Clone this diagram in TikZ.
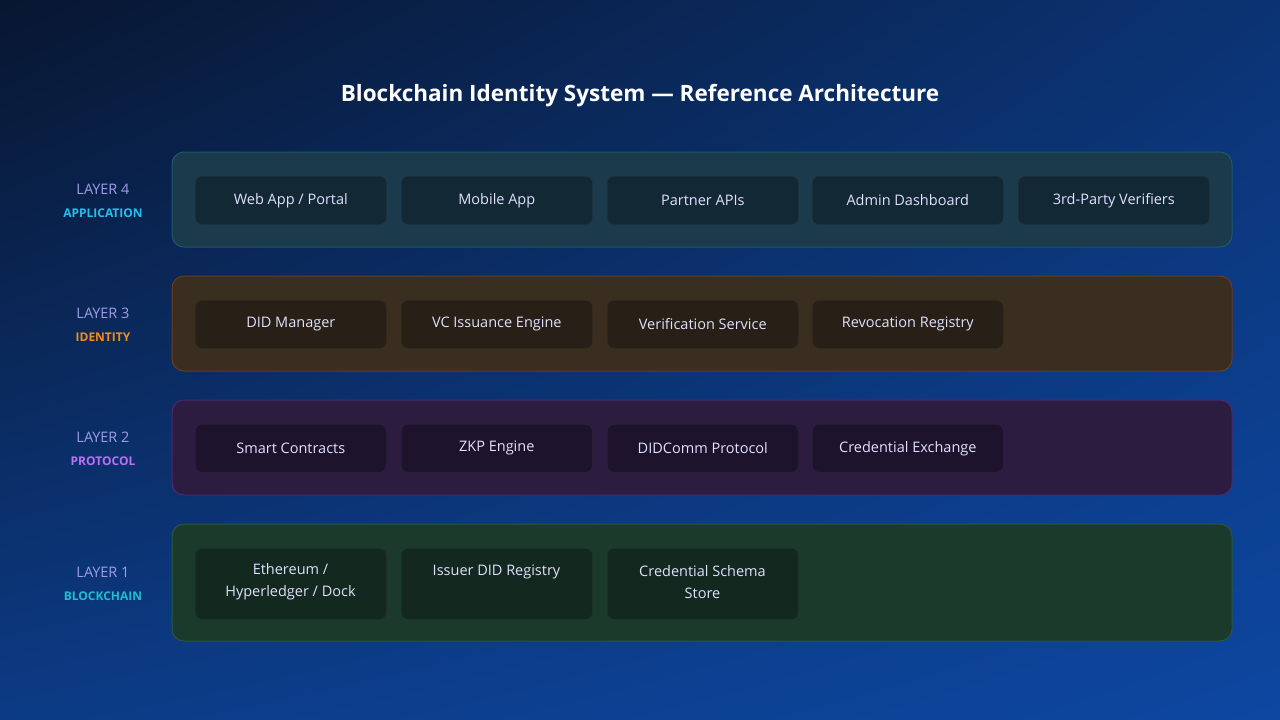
\documentclass[tikz,border=0pt]{standalone}
\usepackage{fontspec}
\setmainfont{Open Sans}
\usetikzlibrary{shadings}
\begin{document}
\begin{tikzpicture}[x=1pt,y=-1pt,
  band/.style={rounded corners=12pt,line width=1pt},
  comp/.style={rounded corners=7pt,draw=white!18!black,draw opacity=0.5,line width=0.6pt,fill=black,fill opacity=0.3,text opacity=1,text=white!88!blue,font=\fontsize{14.5}{22}\selectfont,align=center,minimum width=191pt,anchor=north west,inner sep=0pt},
  lay/.style={text=white!65!blue!80!gray,font=\fontsize{14.5}{16}\selectfont},
  sub/.style={font=\bfseries\fontsize{12}{14}\selectfont}]
\definecolor{bgA}{HTML}{081630}\definecolor{bgB}{HTML}{0D47A1}
\shade[upper left=bgA,lower right=bgB,upper right=bgB!60!bgA,lower left=bgB!75!bgA] (0,0) rectangle (1280,720);
\path[use as bounding box] (0,0) rectangle (1280,720);
\node[text=white,font=\bfseries\fontsize{22.5}{26}\selectfont] (title) at (640,96) {Blockchain Identity System — Reference Architecture};
% bands
\draw[band,fill={rgb,255:red,27;green,58;blue,76},draw={rgb,255:red,30;green,88;blue,105}] (172,152) rectangle (1232,247);
\draw[band,fill={rgb,255:red,58;green,46;blue,32},draw={rgb,255:red,105;green,60;blue,28}] (172,276) rectangle (1232,371);
\draw[band,fill={rgb,255:red,44;green,28;blue,64},draw={rgb,255:red,75;green,40;blue,115}] (172,400) rectangle (1232,495);
\draw[band,fill={rgb,255:red,28;green,58;blue,44},draw={rgb,255:red,38;green,88;blue,62}] (172,524) rectangle (1232,641);
% labels
\node[lay] (l4) at (103,189) {LAYER 4}; \node[sub,text={rgb,255:red,40;green,190;blue,235}] (s4) at (103,213) {APPLICATION};
\node[lay] (l3) at (103,313) {LAYER 3}; \node[sub,text={rgb,255:red,245;green,140;blue,30}] (s3) at (103,337) {IDENTITY};
\node[lay] (l2) at (103,437) {LAYER 2}; \node[sub,text={rgb,255:red,190;green,110;blue,245}] (s2) at (103,461) {PROTOCOL};
\node[lay] (l1) at (103,572) {LAYER 1}; \node[sub,text={rgb,255:red,30;green,190;blue,210}] (s1) at (103,596) {BLOCKCHAIN};
\foreach \x/\t [count=\i] in {195/{Web App / Portal},401/Mobile App,607/Partner APIs,812/Admin Dashboard,1018/3rd-Party Verifiers}
  \node[comp,minimum height=48pt] (a\i) at (\x,176) {\t};
\foreach \x/\t [count=\i] in {195/DID Manager,401/VC Issuance Engine,607/Verification Service,812/Revocation Registry}
  \node[comp,minimum height=48pt] (b\i) at (\x,300) {\t};
\foreach \x/\t [count=\i] in {195/Smart Contracts,401/ZKP Engine,607/DIDComm Protocol,812/Credential Exchange}
  \node[comp,minimum height=48pt] (c\i) at (\x,424) {\t};
\node[comp,minimum height=71pt] (d1) at (195,548) {};
\node[text=white!88!blue,font=\fontsize{14.5}{22}\selectfont,align=center] (d1t) at (290.5,582) {Ethereum /\\Hyperledger / Dock};
\node[comp,minimum height=71pt] (d2) at (401,548) {};
\node[text=white!88!blue,font=\fontsize{14.5}{16}\selectfont] (d2t) at (496.5,572) {Issuer DID Registry};
\node[comp,minimum height=71pt] (d3) at (607,548) {};
\node[text=white!88!blue,font=\fontsize{14.5}{22}\selectfont,align=center] (d3t) at (702.5,582) {Credential Schema\\Store};
\end{tikzpicture}
\end{document}
